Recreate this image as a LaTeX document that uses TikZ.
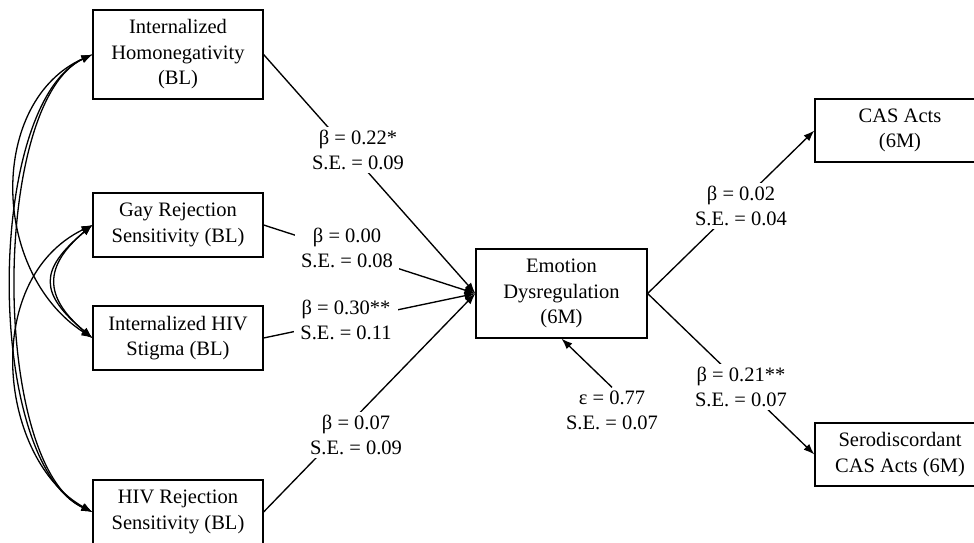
\documentclass[tikz,border=0pt]{standalone}
\usepackage{fontspec}
\setmainfont{Liberation Serif}
\usetikzlibrary{arrows.meta}
\begin{document}
\begin{tikzpicture}[x=1pt,y=1pt,
  box/.style={draw, line width=1.2pt, minimum width=170pt, align=center, inner sep=0pt,
    font=\fontsize{20.5}{25.5}\selectfont},
  lbl/.style={fill=white, align=center, inner xsep=6pt, inner ysep=3pt,
    font=\fontsize{20.5}{25}\selectfont},
  arr/.style={line width=1.35pt, -{Latex[length=11pt,width=8pt]}},
  cov/.style={line width=1.3pt, {Latex[length=11pt,width=8pt]}-{Latex[length=11pt,width=8pt]}}
]
\useasboundingbox (0,0) rectangle (974,543);
% boxes
\node[box, minimum height=89pt] (ih) at (178,488.5) {Internalized\\Homonegativity\\(BL)};
\node[box, minimum height=64pt] (grs) at (178,318) {Gay Rejection\\Sensitivity (BL)};
\node[box, minimum height=64pt] (ihs) at (178,205) {Internalized HIV\\Stigma (BL)};
\node[box, minimum height=64pt] (hrs) at (178,31) {HIV Rejection\\Sensitivity (BL)};
\node[box, minimum width=171pt, minimum height=89pt] (ed) at (561.5,249.5) {Emotion\\Dysregulation\\(6M)};
\node[box, minimum height=63pt] (cas) at (900,412.5) {CAS Acts\\(6M)};
\node[box, minimum height=63pt] (sero) at (900,88.5) {Serodiscordant\\CAS Acts (6M)};
% paths
\draw[arr] (ih.east) -- (ed.west);
\draw[arr] (grs.east) -- (ed.west);
\draw[arr] (ihs.east) -- (ed.west);
\draw[arr] (hrs.east) -- (ed.west);
\draw[arr] (ed.east) -- (cas.west);
\draw[arr] (ed.east) -- (sero.west);
% covariances
\draw[cov] (ih.west) to[out=205,in=155,distance=119pt] (hrs.west);
\draw[cov] (ih.west) to[out=205,in=155,distance=112pt] (hrs.west);
\draw[cov] (ih.west) to[out=204,in=147,out distance=113pt,in distance=123pt] (ihs.west);
\draw[cov] (grs.west) to[out=206,in=151,out distance=126pt,in distance=106pt] (hrs.west);
\draw[cov] (grs.west) to[out=220,in=140,distance=70pt] (ihs.west);
\draw[cov] (grs.west) to[out=220,in=140,distance=64pt] (ihs.west);
% labels
\node[lbl] (l1) at (358,393) {β = 0.22*\\S.E. = 0.09};
\node[lbl] (l2) at (347,295) {β = 0.00\\S.E. = 0.08};
\node[lbl] (l3) at (346,223) {β = 0.30**\\S.E. = 0.11};
\node[lbl] (l4) at (356,108) {β = 0.07\\S.E. = 0.09};
\node[lbl] (l5) at (741,337) {β = 0.02\\S.E. = 0.04};
\node[lbl] (l6) at (741,156) {β = 0.21**\\S.E. = 0.07};
\node[lbl] (eps) at (612,133) {ε = 0.77\\S.E. = 0.07};
\draw[arr] (eps.north) -- (ed.south);
\end{tikzpicture}
\end{document}
